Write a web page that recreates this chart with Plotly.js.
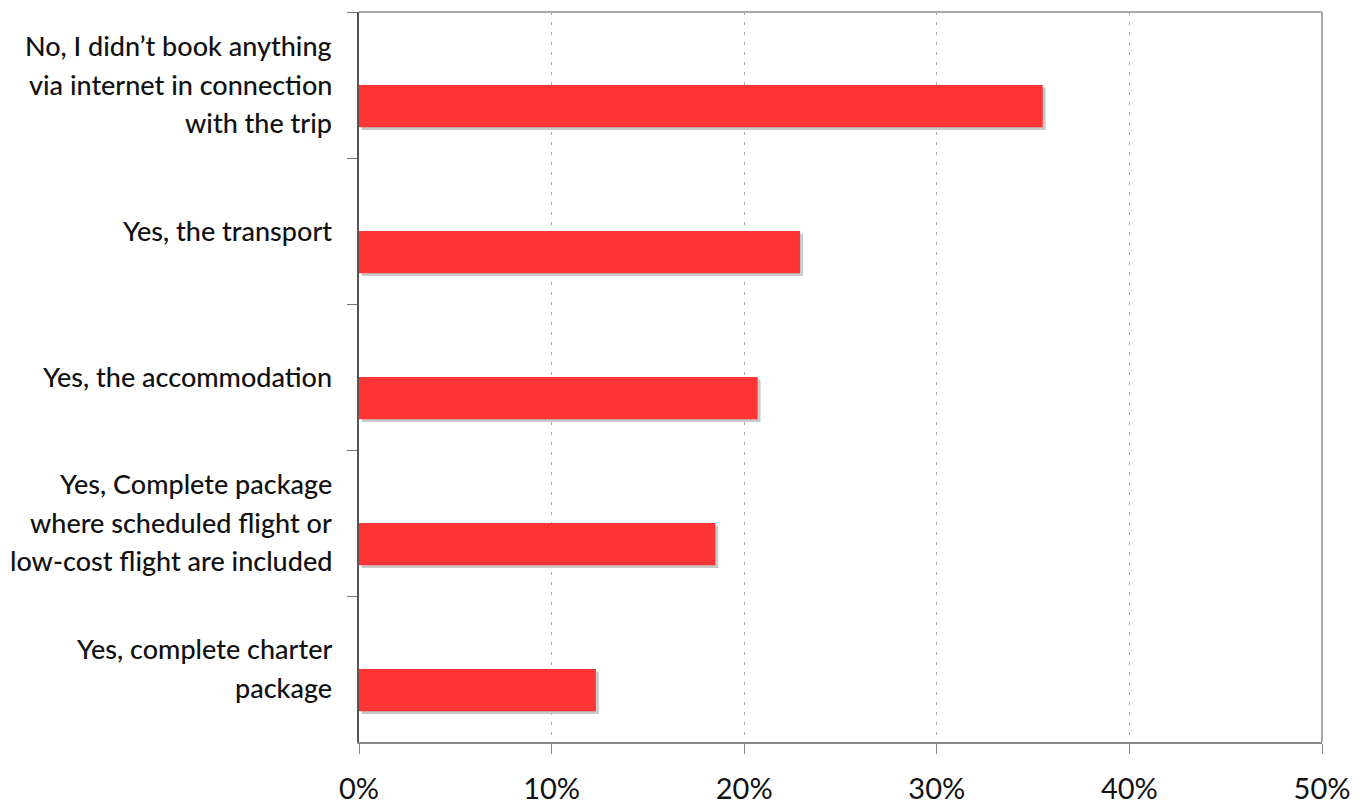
<!DOCTYPE html>
<html>
<head>
<meta charset="utf-8">
<script src="https://cdn.plot.ly/plotly-3.0.1.min.js"></script>
<style>html,body{margin:0;padding:0;background:#fff;}#chart{width:1360px;height:808px;}</style>
</head>
<body>
<div id="chart"></div>
<script>
// ---- data ----
const categories = [
  "No, I didn\u2019t book anything via internet in connection with the trip",
  "Yes, the transport",
  "Yes, the accommodation",
  "Yes, Complete package where scheduled flight or low-cost flight are included",
  "Yes, complete charter package"
];
const labelLines = [
  ["No, I didn\u2019t book anything", "via internet in connection", "with the trip"],
  ["Yes, the transport"],
  ["Yes, the accommodation"],
  ["Yes, Complete package", "where scheduled flight or", "low-cost flight are included"],
  ["Yes, complete charter", "package"]
];
const shares = [35.5, 22.9, 20.7, 18.5, 12.3];
const xTicks = [0, 10, 20, 30, 40, 50];
const xTickLabels = ["0%", "10%", "20%", "30%", "40%", "50%"];

// ---- style ----
const FONT = "Lato, 'Open Sans', sans-serif";
const LINE_GAP = 38.5;

const shadow = {
  type: "bar", orientation: "h",
  y: categories, x: shares,
  base: 0.15, width: 0.29, offset: 0.018,
  marker: {color: "#c9c9c9"},
  hoverinfo: "skip", showlegend: false
};
const bars = {
  type: "bar", orientation: "h",
  y: categories, x: shares,
  width: 0.29, offset: 0,
  marker: {color: "#ff3535"},
  showlegend: false
};

const annotations = [];
labelLines.forEach((lines, i) => {
  const n = lines.length;
  lines.forEach((t, j) => {
    annotations.push({
      xref: "paper", yref: "y", x: 0, y: categories[i],
      xanchor: "right", yanchor: "middle",
      xshift: -25, yshift: -((j - (n - 1) / 2) * LINE_GAP) + 1,
      text: t, showarrow: false,
      font: {family: FONT, size: 27, color: "#111", weight: 500}
    });
  });
});

const layout = {
  width: 1360, height: 808,
  margin: {l: 359, r: 38, t: 12, b: 66},
  paper_bgcolor: "#fff", plot_bgcolor: "#fff",
  barmode: "overlay",
  xaxis: {
    range: [0, 50], tickvals: xTicks, ticktext: xTickLabels,
    showgrid: true, gridcolor: "#a8a8a8", griddash: "3px,7px", gridwidth: 1,
    zeroline: false,
    showline: true, linecolor: "#8a8a8a", linewidth: 2,
    ticks: "outside", ticklen: 10, tickcolor: "#8a8a8a", tickwidth: 1,
    ticklabelstandoff: 10,
    tickfont: {family: FONT, size: 29, color: "#111"}
  },
  yaxis: {
    type: "category", categoryorder: "array", categoryarray: categories,
    range: [4.5, -0.5],
    showgrid: false, zeroline: false,
    showline: true, linecolor: "#555", linewidth: 2,
    ticks: "outside", tickson: "boundaries", ticklen: 10, tickcolor: "#777", tickwidth: 1,
    showticklabels: false
  },
  shapes: [
    {type: "line", xref: "paper", yref: "paper", x0: 0, x1: 1, y0: 1, y1: 1, line: {color: "#a8a8a8", width: 2}},
    {type: "line", xref: "paper", yref: "paper", x0: 1, x1: 1, y0: 0, y1: 1, line: {color: "#a8a8a8", width: 2}}
  ],
  annotations: annotations
};

Plotly.newPlot("chart", [shadow, bars], layout, {displayModeBar: false, staticPlot: true});
</script>
</body>
</html>
